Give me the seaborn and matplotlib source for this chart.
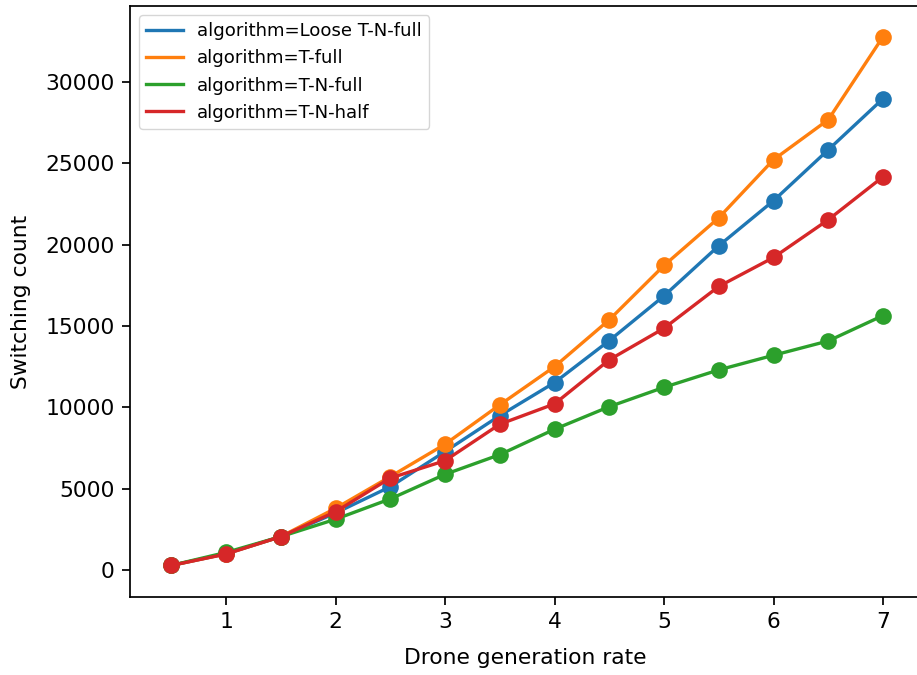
import seaborn as sns
import pandas as pd
import matplotlib.pyplot as plt

rates = [0.5, 1, 1.5, 2, 2.5, 3, 3.5, 4, 4.5, 5, 5.5, 6, 6.5, 7]
algorithms = ["Loose T-N-full", "T-full", "T-N-full", "T-N-half"]

loose_tn_full = [280, 1000, 2050, 3500, 5120, 7280, 9490, 11520, 14100, 16850, 19930, 22700, 25830, 28970]
t_full = [280, 1000, 2050, 3790, 5740, 7730, 10150, 12500, 15380, 18720, 21650, 25220, 27680, 32780]
tn_full = [280, 1080, 2050, 3120, 4370, 5880, 7090, 8650, 10040, 11230, 12300, 13200, 14080, 15640]
tn_half = [280, 980, 2050, 3580, 5650, 6720, 8960, 10210, 12920, 14860, 17430, 19210, 21530, 24170]

series = [loose_tn_full, t_full, tn_full, tn_half]
rows = []
for name, vals in zip(algorithms, series):
    for r, v in zip(rates, vals):
        rows.append({"rate": r, "count": v, "algorithm": "algorithm=" + name})
df = pd.DataFrame(rows)

# original was rendered at a higher dpi, so scale the defaults up
plt.rcParams.update({
    "font.size": 15.7,
    "axes.linewidth": 1.25,
    "xtick.major.size": 5.5, "ytick.major.size": 5.5,
    "xtick.major.width": 1.25, "ytick.major.width": 1.25,
    "xtick.major.pad": 5.5, "ytick.major.pad": 5.5,
})

fig = plt.figure(figsize=(9.17, 6.75), dpi=100)
# right side of the axes runs past the figure edge (cropped in the reference)
ax = fig.add_axes([130 / 917, 78 / 675, 791 / 917, 591 / 675])

sns.lineplot(data=df, x="rate", y="count", hue="algorithm", ax=ax,
             marker="o", markersize=12, markeredgewidth=0, linewidth=2.4)

ax.set_xlim(0.123, 7.347)
ax.set_ylim(-1660, 34670)

# legend only shows the lines
handles, labels = ax.get_legend_handles_labels()
for h in handles:
    h.set_marker("")
ax.legend(handles, labels, loc="upper left", fontsize=13.1, title=None)

ax.set_xlabel("Drone generation rate", fontsize=15.7, labelpad=11)
ax.set_ylabel("Switching count", fontsize=15.7, labelpad=10)
ax.tick_params(labelsize=15.7)

fig.savefig("out.png", dpi=100)
